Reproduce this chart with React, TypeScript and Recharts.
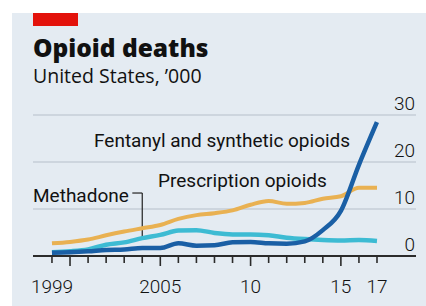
import { LineChart, Line, XAxis, YAxis, CartesianGrid, ReferenceLine } from 'recharts'

const years = [1999, 2000, 2001, 2002, 2003, 2004, 2005, 2006, 2007, 2008, 2009, 2010, 2011, 2012, 2013, 2014, 2015, 2016, 2017]
const prescription = [2.7, 3.0, 3.5, 4.4, 5.2, 5.9, 6.6, 7.9, 8.7, 9.1, 9.7, 10.9, 11.7, 11.1, 11.3, 12.2, 12.7, 14.5, 14.5]
const methadone = [0.8, 1.0, 1.4, 2.4, 2.9, 3.8, 4.5, 5.4, 5.5, 4.9, 4.6, 4.6, 4.4, 3.9, 3.6, 3.4, 3.3, 3.4, 3.2]
const fentanyl = [0.7, 0.8, 1.0, 1.3, 1.4, 1.7, 1.7, 2.7, 2.2, 2.3, 2.9, 3.0, 2.7, 2.6, 3.1, 5.5, 9.6, 19.4, 28.5]
const yTicks = [0, 10, 20, 30]
const xLabels: Record<number, string> = { 1999: '1999', 2005: '2005', 2010: '10', 2015: '15', 2017: '17' }
const longTicks = [2000, 2005, 2010, 2015]

const data = years.map((year, i) => ({
  year,
  prescription: prescription[i],
  methadone: methadone[i],
  fentanyl: fentanyl[i],
}))

const font = 'Roboto, sans-serif'
const ink = '#111111'

const XTick = (props: any) => {
  const { x, y, payload } = props
  const v = payload.value
  const len = longTicks.includes(v) ? 10 : 7
  return (
    <g>
      <line x1={x} x2={x} y1={y} y2={y + len} stroke="#2b2b2b" strokeWidth={1.6} />
      {xLabels[v] && (
        <text x={x} y={y + 37} textAnchor="middle" fontFamily={font} fontWeight={300} fontSize={19} fill={ink} stroke="none">
          {xLabels[v]}
        </text>
      )}
    </g>
  )
}

const YTick = (props: any) => {
  const { y, payload } = props
  return (
    <text x={415} y={y - 5} textAnchor="end" fontFamily={font} fontWeight={300} fontSize={19} fill={ink} stroke="none">
      {payload.value}
    </text>
  )
}

export default function App() {
  return (
    <div style={{ position: 'absolute', left: 0, top: 0, width: 426, height: 306, background: '#fff', overflow: 'hidden' }}>
      <div style={{ position: 'absolute', left: 12, top: 13, width: 414, height: 293, background: '#e4ebf2' }} />
      <div style={{ position: 'absolute', left: 33, top: 13, width: 45, height: 13, background: '#e3120b' }} />
      <div style={{ position: 'absolute', left: 0, top: 0 }}>
        <LineChart width={426} height={306} data={data} margin={{ top: 115, right: 0, bottom: 0, left: 33 }}>
          <CartesianGrid horizontal vertical={false} stroke="#b6c0c9" strokeWidth={1.2} />
          <XAxis
            dataKey="year"
            type="number"
            domain={[1997.95, 2019.16]}
            ticks={years}
            allowDataOverflow
            height={50}
            tickSize={0}
            tickMargin={0}
            tickLine={false}
            axisLine={{ stroke: '#2b2b2b', strokeWidth: 1.8 }}
            tick={<XTick />}
            interval={0}
          />
          <YAxis
            orientation="right"
            width={10}
            domain={[0, 30]}
            ticks={yTicks}
            axisLine={false}
            tickLine={false}
            tick={<YTick />}
            interval={0}
          />
          <ReferenceLine
            segment={[{ x: 2003.45, y: 13.4 }, { x: 2004, y: 13.4 }]}
            stroke="#222"
            strokeWidth={1.2}
          />
          <ReferenceLine
            segment={[{ x: 2004, y: 13.4 }, { x: 2004, y: 4.0 }]}
            stroke="#222"
            strokeWidth={1.2}
          />
          <Line type="monotone" dataKey="prescription" stroke="#e9b152" strokeWidth={4} dot={false} isAnimationActive={false} />
          <Line type="monotone" dataKey="methadone" stroke="#3dbbd3" strokeWidth={4.5} dot={false} isAnimationActive={false} />
          <Line type="monotone" dataKey="fentanyl" stroke="#1a5fa5" strokeWidth={4.5} dot={false} isAnimationActive={false} />
        </LineChart>
      </div>
      <svg width={426} height={306} style={{ position: 'absolute', left: 0, top: 0, pointerEvents: 'none' }}>
        <text x={33} y={57} fontFamily="'Open Sans', sans-serif" fontWeight={800} fontSize={24.5} fill={ink}>
          Opioid deaths
        </text>
        <text x={33} y={83} fontFamily="'Open Sans', sans-serif" fontSize={19.5} fill={ink}>
          United States, ’000
        </text>
        <text x={94} y={147} fontFamily={font} fontSize={19} fill={ink}>
          Fentanyl and synthetic opioids
        </text>
        <text x={158} y={187} fontFamily={font} fontSize={19} fill={ink}>
          Prescription opioids
        </text>
        <text x={33} y={202} fontFamily={font} fontSize={19} fill={ink}>
          Methadone
        </text>
      </svg>
    </div>
  )
}
